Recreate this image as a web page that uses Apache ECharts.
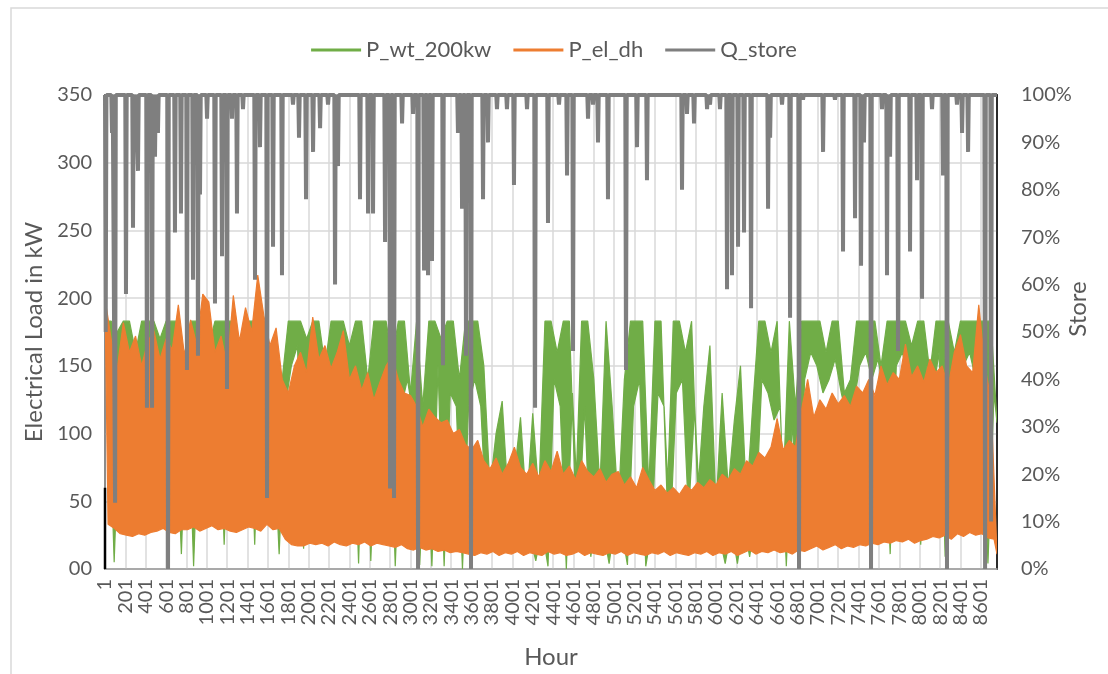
<!DOCTYPE html>
<html><head><meta charset="utf-8">
<script src="https://cdn.jsdelivr.net/npm/echarts@6/dist/echarts.min.js"></script>
<style>html,body{margin:0;padding:0;background:#fff}#c{width:1108px;height:674px}</style>
</head><body><div id="c"></div>
<script>
// Series names
const seriesNames = ['P_wt_200kw', 'P_el_dh', 'Q_store'];
// Samples every 60 hours (from hour 1): daily highs, and the lows 30 hours later
const sampleStep = 60;
const orangeHigh = [
200,170,148,182,160,172,150,168,176,155,
170,162,195,158,184,166,203,197,160,172,
150,202,168,193,175,217,187,165,178,140,
130,150,160,145,186,155,165,148,160,176,
140,150,132,145,125,138,150,157,140,130,
128,120,105,118,112,108,110,100,103,92,
88,95,80,74,82,70,78,90,75,70,
78,68,80,72,87,70,76,66,80,72,
68,74,64,70,72,62,68,60,75,66,
58,62,56,60,55,62,58,64,60,66,
62,70,66,74,70,80,76,86,82,90,
111,88,95,90,118,140,112,125,118,130,
122,128,120,135,130,140,128,150,136,145,
140,166,142,150,138,155,145,150,135,160,
173,150,145,195,150,125];
const orangeLow = [
33,30,26,25,24,26,25,27,28,30,
27,26,29,29,31,28,30,32,29,30,
28,27,29,31,30,28,33,29,30,22,
18,17,17,19,18,19,17,20,18,17,
19,18,20,17,19,18,17,16,18,15,
14,16,14,15,13,14,12,13,12,11,
10,12,11,13,10,12,11,13,10,12,
11,10,13,11,12,10,11,13,10,12,
11,10,12,11,13,10,12,11,10,12,
11,13,10,12,11,10,12,11,13,10,
12,11,13,10,12,14,11,13,12,14,
12,13,11,14,13,15,17,14,16,18,
15,17,16,18,17,19,18,20,19,21,
20,22,19,21,22,24,23,25,22,26,
24,27,25,26,23,22];
const orangeLast = 11;
const greenHigh = [
183,183,175,183,183,160,183,183,183,170,
183,183,183,150,183,183,183,165,183,183,
183,183,155,183,183,183,183,145,160,140,
183,183,183,170,183,183,150,183,183,183,
165,183,183,140,183,183,183,155,183,183,
130,183,120,183,183,170,183,183,140,183,
183,183,150,60,100,124,50,70,112,45,
115,55,183,183,160,183,183,50,183,183,
140,60,183,120,45,140,183,183,183,60,
183,183,50,183,183,160,183,55,120,165,
45,130,60,110,150,50,120,183,183,160,
183,60,183,120,183,183,183,183,160,183,
183,130,140,183,183,183,183,150,183,183,
183,183,165,183,183,145,183,183,183,160,
183,183,183,183,183,183];
const greenLow = [
150,5,130,160,120,140,155,110,165,135,
150,125,11,140,2,130,145,130,160,18,
140,155,120,150,18,160,135,110,11,120,
150,165,15,140,125,160,130,150,145,120,
140,4,155,6,130,130,150,2,120,140,
110,3,100,2,150,2,130,120,0,120,
140,120,30,25,40,30,20,35,30,25,
6,30,2,140,120,0,130,30,120,9,
40,30,4,35,30,3,120,140,2,30,
130,120,25,130,140,40,120,30,40,35,
25,4,30,4,35,9,40,140,130,110,
120,2,110,4,140,160,150,130,140,155,
130,110,120,150,160,140,155,130,11,150,
160,140,130,18,150,130,160,9,140,130,
150,160,140,145,4,130];
const greenLast = 108;
// Store level: full (100 %) except at these dips
const storeFull = 100;
const storeDipHour = [8,70,100,207,276,296,325,413,463,492,521,620,688,747,806,865,914,934,1003,1081,1150,1199,1248,1297,1356,1474,1523,1592,1651,1739,1847,1906,1975,2044,2113,2191,2260,2289,2505,2584,2633,2751,2800,2839,2918,3026,3075,3134,3173,3212,3320,3467,3507,3546,3595,3713,3762,3850,3948,4017,4145,4224,4351,4459,4538,4597,4744,4793,4842,4940,5117,5225,5323,5667,5716,5785,5913,5942,6040,6109,6158,6217,6276,6345,6512,6532,6649,6728,6816,6855,7052,7169,7248,7366,7425,7454,7523,7631,7680,7710,7788,7906,7975,8024,8122,8230,8269,8367,8417,8476,8643,8702];
const storeDipPct  = [50,92,14,58,72,97,84,34,34,87,92,0,71,75,42,61,45,79,95,56,66,38,95,75,97,61,89,15,68,62,98,91,78,88,93,98,60,85,78,75,75,69,17,15,94,96,0,63,62,65,43,92,76,45,0,78,90,97,97,81,97,34,73,98,83,46,95,98,90,78,42,89,82,80,96,94,97,98,97,59,62,68,71,55,76,91,98,53,0,99,88,99,67,74,64,90,0,97,62,87,46,67,82,57,97,83,0,98,92,88,0,10];
const edgeBlack = [0, 60];
const lastHour = 8760;

// The hourly curve fills the band between its daily highs and lows: one polygon, placed with the axes' scales
function bandRender(hi, lo, last, color) {
  return function (params, api) {
    if (params.dataIndex !== 0) return null;
    const pts = [];
    for (let i = 0; i < hi.length; i++) pts.push(api.coord([1 + sampleStep * i, hi[i]]));
    pts.push(api.coord([lastHour, last]));
    for (let i = lo.length - 1; i >= 0; i--) pts.push(api.coord([1 + sampleStep * i + sampleStep / 2, lo[i]]));
    return {type: 'polygon', shape: {points: pts}, style: {fill: color, stroke: color, lineWidth: 1.2, lineJoin: 'bevel'}};
  };
}
function storeLine() {
  const d = [[1, storeFull]];
  for (let i = 0; i < storeDipHour.length; i++) {
    const h = storeDipHour[i];
    d.push([Math.max(1, h - 7), storeFull], [h, storeDipPct[i]], [h + 7, storeFull]);
  }
  d.push([lastHour, storeFull]);
  return d;
}

const FONT = 'Lato';
const TXT = '#595959';
const GREEN = '#70ad47', ORANGE = '#ed7d31', GRAY = '#7f7f7f';
const chart = echarts.init(document.getElementById('c'), null, {renderer: 'canvas'});
chart.setOption({
  animation: false,
  backgroundColor: '#fff',
  graphic: [
    {type: 'rect', shape: {x: 11, y: 8, width: 1200, height: 800}, style: {fill: 'none', stroke: '#d9d9d9', lineWidth: 1.5}, silent: true},
    {type: 'text', x: 1078, y: 309, rotation: Math.PI / 2, style: {text: 'Store', fontFamily: FONT, fontSize: 24, fill: TXT, align: 'center', verticalAlign: 'middle'}, silent: true}
  ],
  legend: {
    data: seriesNames, top: 34, left: 'center', icon: 'rect', itemWidth: 50, itemHeight: 3, itemGap: 22,
    textStyle: {fontFamily: FONT, fontSize: 22, color: TXT}
  },
  grid: {left: 105, right: 111, top: 95, bottom: 99, show: true, borderColor: '#000', borderWidth: 1.5, backgroundColor: 'transparent'},
  xAxis: {
    type: 'value', min: 1, max: lastHour, interval: 200,
    name: 'Hour', nameLocation: 'middle', nameGap: 76,
    nameTextStyle: {fontFamily: FONT, fontSize: 24, color: TXT},
    axisLine: {show: true, onZero: false, lineStyle: {color: '#a6a6a6', width: 1.5}},
    axisTick: {show: false},
    axisLabel: {rotate: 90, margin: 10, fontFamily: FONT, fontSize: 20, color: TXT, showMaxLabel: false, showMinLabel: true, formatter: v => String(v)},
    splitLine: {show: true, lineStyle: {color: '#d9d9d9', width: 1.5}}
  },
  yAxis: [{
    type: 'value', min: 0, max: 350, interval: 50,
    name: 'Electrical Load in kW', nameLocation: 'middle', nameGap: 56, nameRotate: 90,
    nameTextStyle: {fontFamily: FONT, fontSize: 24, color: TXT},
    axisLine: {show: true, lineStyle: {color: '#808080', width: 1.5}},
    axisTick: {show: false},
    axisLabel: {margin: 13, fontFamily: FONT, fontSize: 20, color: TXT, formatter: v => v === 0 ? '00' : String(v)},
    splitLine: {show: true, lineStyle: {color: '#d9d9d9', width: 1.5}}
  }, {
    type: 'value', min: 0, max: 100, interval: 10, position: 'right',
    axisLine: {show: true, lineStyle: {color: '#000', width: 1.5}},
    axisTick: {show: false},
    axisLabel: {margin: 24, fontFamily: FONT, fontSize: 20, color: TXT, formatter: '{value}%'},
    splitLine: {show: false}
  }],
  series: [
    {name: seriesNames[0], type: 'custom', yAxisIndex: 0, renderItem: bandRender(greenHigh, greenLow, greenLast, GREEN),
     data: greenHigh.map((v, i) => [1 + sampleStep * i, v]), encode: {x: 0, y: 1}, itemStyle: {color: GREEN}, clip: true, z: 3},
    {name: 'edge', type: 'line', yAxisIndex: 0, data: edgeBlack.map(v => [1, v]), symbol: 'none',
     lineStyle: {color: '#000', width: 2.5}, z: 3},
    {name: seriesNames[1], type: 'custom', yAxisIndex: 0, renderItem: bandRender(orangeHigh, orangeLow, orangeLast, ORANGE),
     data: orangeHigh.map((v, i) => [1 + sampleStep * i, v]), encode: {x: 0, y: 1}, itemStyle: {color: ORANGE}, clip: true, z: 4},
    {name: seriesNames[2], type: 'line', yAxisIndex: 1, data: storeLine(), symbol: 'none',
     lineStyle: {color: GRAY, width: 4}, itemStyle: {color: GRAY}, z: 5}
  ]
});
</script></body></html>
